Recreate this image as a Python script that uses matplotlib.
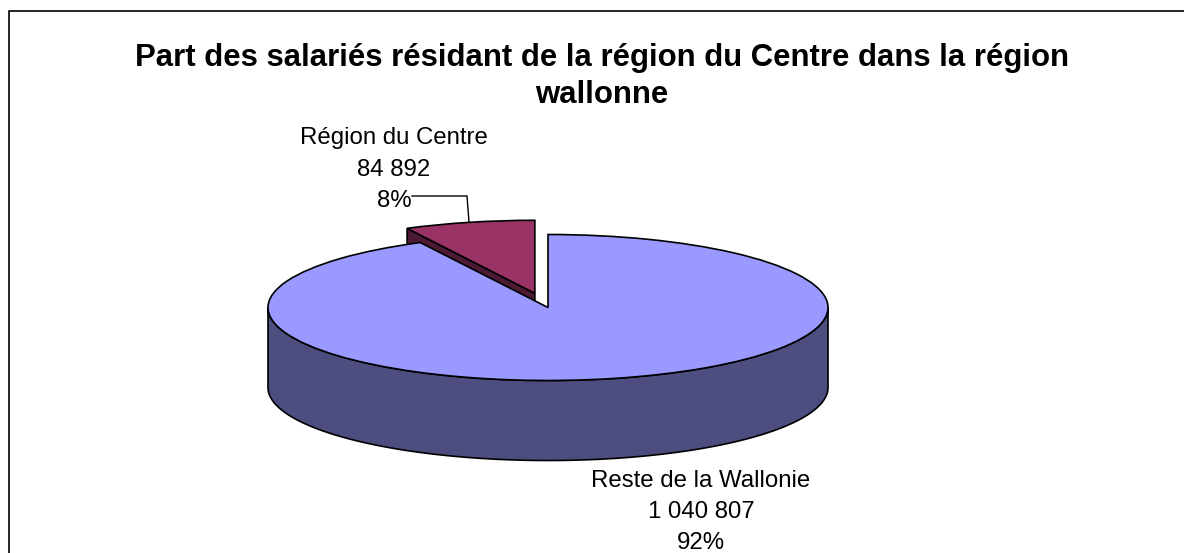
import numpy as np
import matplotlib
matplotlib.use("Agg")
import matplotlib.pyplot as plt
from matplotlib.patches import Polygon

categories = ["Reste de la Wallonie", "Région du Centre"]
values = [1040807, 84892]
value_labels = ["1 040 807", "84 892"]
pct_labels = ["92%", "8%"]
title = "Part des salariés résidant de la région du Centre dans la région\nwallonne"

W, H = 1184, 553
plt.rcParams['font.family'] = ['Liberation Sans', 'DejaVu Sans']
fig = plt.figure(figsize=(W/100, H/100), dpi=100, facecolor='white')

# pixel overlay for frame, text, leader
px = fig.add_axes([0, 0, 1, 1], zorder=3)
px.set_xlim(0, W); px.set_ylim(H, 0); px.axis('off'); px.patch.set_alpha(0)

# pie axes: one data unit = rx px horizontally, ry px vertically
cx, cy, rx, ry, depth = 548, 307.5, 280, 73, 80
ax = fig.add_axes([0, 0, 1, 1], zorder=2)
ax.patch.set_alpha(0)
explode = [0, 0.2]
wedges, _ = ax.pie(values, explode=explode, startangle=90, counterclock=False, radius=1,
                   colors=['#9999FF', '#993366'], frame=False,
                   wedgeprops=dict(edgecolor='black', linewidth=1.2))
ax.set_aspect('auto')
ax.set_xlim(-cx/rx, (W-cx)/rx)
ax.set_ylim(-(H-cy)/ry, cy/ry)
ax.axis('off')
d = depth/ry
frac = values[0]/sum(values)
split = 90 - 360*frac  # angle (deg) where main slice ends

# wedge's visible cut face: radial edge from apex to the left corner, extruded down
e = explode[1]
mid = np.deg2rad(split - 180*(1-frac))  # bisector of small slice
ox, oy = e*np.cos(mid), e*np.sin(mid)
ang = np.deg2rad(split)
edge = np.array([[ox, oy], [ox+np.cos(ang), oy+np.sin(ang)]])
face = np.vstack([edge, edge[::-1]-[0, d]])
ax.add_patch(Polygon(face, closed=True, fc='#4D1A33', ec='black', lw=1.2, zorder=1))
wedges[1].set_zorder(2)

# main slice outer wall (front half)
t = np.linspace(np.pi, 2*np.pi, 200)
upper = np.c_[np.cos(t), np.sin(t)]
wall = np.vstack([upper, upper[::-1]-[0, d]])
ax.add_patch(Polygon(wall, closed=True, fc='#4D4D80', ec='black', lw=1.2, zorder=3))
wedges[0].set_zorder(4)

fs = 17.3
# frame
px.plot([9, 9, W], [H, 10.5, 10.5], color='black', lw=1.2, clip_on=False)
px.text(602, 76.5, title, ha='center', va='center', fontsize=22.4, fontweight='bold', linespacing=1.34)
px.text(394, 169.5, f"{categories[1]}\n{value_labels[1]}\n{pct_labels[1]}", ha='center', va='center',
        fontsize=fs, linespacing=1.55)
px.text(701, 512, f"{categories[0]}\n{value_labels[0]}\n{pct_labels[0]}", ha='center', va='center',
        fontsize=fs, linespacing=1.55)
px.plot([412, 467, 469], [196, 196, 222], color='black', lw=1)
fig.savefig("out.png", dpi=100)
